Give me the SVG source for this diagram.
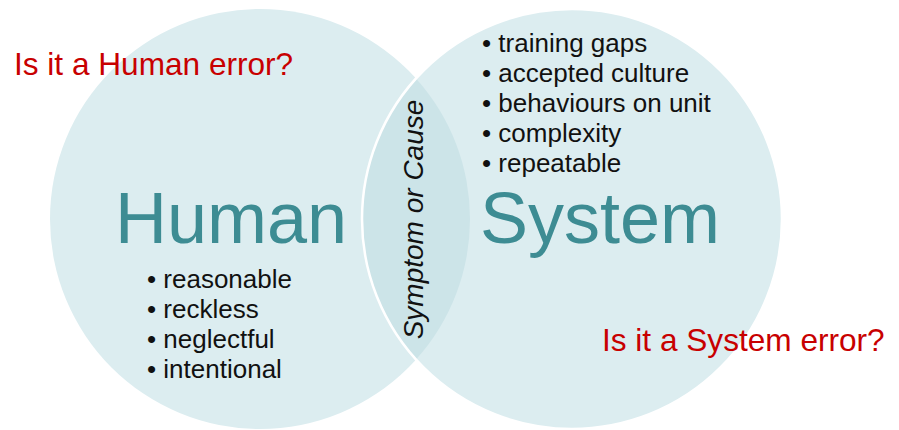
<svg xmlns="http://www.w3.org/2000/svg" width="899" height="430" viewBox="0 0 899 430">
  <style>
    .circle { fill: #dcedf0; }
    .lens { fill: #cce4e8; }
    .rim { fill: none; stroke: #ffffff; stroke-width: 2.5; }
    .title { font-family: "Liberation Sans", Arial, sans-serif; font-size: 72px; fill: #3d8c93; }
    .question { font-family: "Liberation Sans", Arial, sans-serif; font-size: 31.6px; fill: #c80000; }
    .item { font-family: "Liberation Sans", Arial, sans-serif; font-size: 26px; fill: #111111; }
    .overlap { font-family: "Liberation Sans", Arial, sans-serif; font-size: 28px; font-style: italic; fill: #111111; }
  </style>

  <!-- Left set: Human -->
  <g id="human">
    <circle class="circle" cx="260" cy="219" r="210"/>
  </g>

  <!-- Right set: System -->
  <g id="system">
    <circle class="circle" cx="572" cy="219" r="210"/>
  </g>

  <!-- Overlap of the two sets -->
  <g id="overlap">
    <path class="lens" d="M416,78.4 A210,210 0 0 1 416,359.6 A210,210 0 0 1 416,78.4 Z"/>
    <circle class="rim" cx="572" cy="219" r="210"/>
    <text class="overlap" transform="translate(423,219.5) rotate(-90)" text-anchor="middle">Symptom or Cause</text>
  </g>

  <!-- Human labels -->
  <g id="human-labels">
    <text class="title" x="115" y="243">Human</text>
    <text class="question" x="14" y="75">Is it a Human error?</text>
    <text class="item" x="147" y="288">• reasonable</text>
    <text class="item" x="147" y="318">• reckless</text>
    <text class="item" x="147" y="348">• neglectful</text>
    <text class="item" x="147" y="378">• intentional</text>
  </g>

  <!-- System labels -->
  <g id="system-labels">
    <text class="title" x="480" y="243">System</text>
    <text class="question" x="602" y="351">Is it a System error?</text>
    <text class="item" x="482" y="52">• training gaps</text>
    <text class="item" x="482" y="82">• accepted culture</text>
    <text class="item" x="482" y="112">• behaviours on unit</text>
    <text class="item" x="482" y="142">• complexity</text>
    <text class="item" x="482" y="172">• repeatable</text>
  </g>

  <!-- No connectors in this diagram -->
  <g id="connectors"/>
</svg>
